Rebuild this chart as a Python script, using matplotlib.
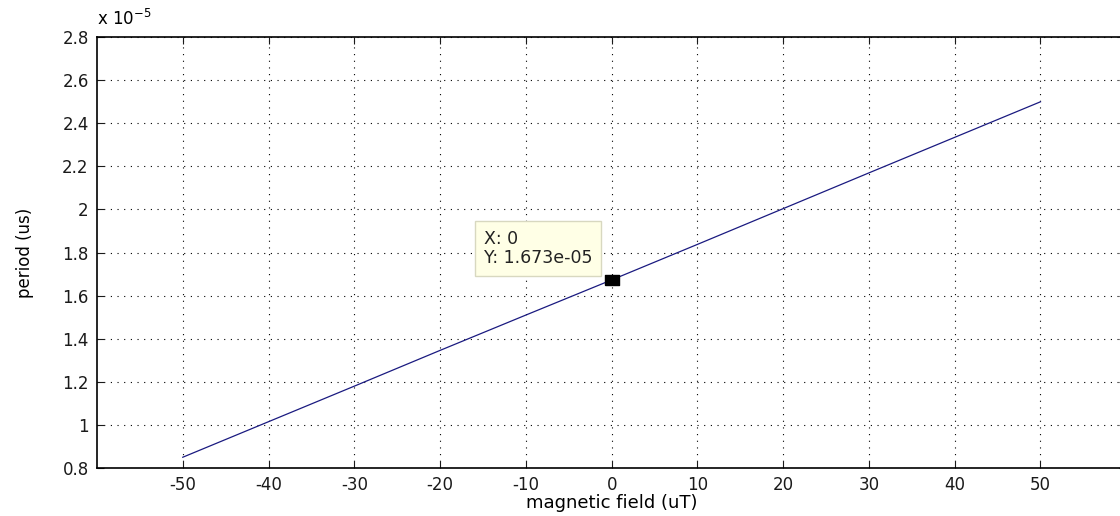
import matplotlib.pyplot as plt
import numpy as np
from matplotlib.ticker import FuncFormatter

# magnetic field (uT) vs period
field = [-50, -40, -30, -20, -10, 0, 10, 20, 30, 40, 50]
period = [0.850e-5, 1.015e-5, 1.180e-5, 1.346e-5, 1.510e-5, 1.673e-5,
          1.838e-5, 2.004e-5, 2.170e-5, 2.335e-5, 2.500e-5]
tip_x = 0
tip_y = 1.673e-5

xticks = [-50, -40, -30, -20, -10, 0, 10, 20, 30, 40, 50]
yticks = [0.8e-5, 1.0e-5, 1.2e-5, 1.4e-5, 1.6e-5, 1.8e-5, 2.0e-5,
          2.2e-5, 2.4e-5, 2.6e-5, 2.8e-5]

plt.rcParams['font.family'] = ['DejaVu Sans']
plt.rcParams['axes.unicode_minus'] = False

fig = plt.figure(figsize=(11.2, 5.16), dpi=100)
ax = fig.add_axes([0.0866, 0.093, 0.919, 0.835])

ax.plot(field, period, color='#1a1a80', lw=0.9)

ax.set_xlim(-60, 60)
ax.set_ylim(0.8e-5, 2.8e-5)
ax.set_xticks(xticks)
ax.set_yticks(yticks)
ax.yaxis.set_major_formatter(FuncFormatter(lambda v, p: '%g' % round(v / 1e-5, 2)))
ax.tick_params(direction='in', length=5, labelsize=12, colors='#1a1a1a', pad=6,
               top=True, right=True)
ax.grid(True, color='black', linestyle=(0, (1, 5)), linewidth=0.8)
for s in ax.spines.values():
    s.set_linewidth(1.2)

fig.text(0.087, 0.943, r'x 10$^{-5}$', fontsize=12, ha='left', va='bottom')

ax.set_xlabel('magnetic field (uT)', fontsize=13, labelpad=0)
ax.set_ylabel('period (us)', fontsize=12, labelpad=20)

# data tip
box = [(-1.4, -1), (1.4, -1), (1.4, 1), (-1.4, 1), (-1.4, -1)]
ax.plot([tip_x], [tip_y], marker=box, color='black', markersize=10, zorder=5)
ax.annotate('X: 0\nY: 1.673e-05', xy=(tip_x, tip_y), xytext=(-14, 9),
            textcoords='offset points', ha='right', va='bottom', fontsize=12.5,
            multialignment='left', linespacing=1.1, color='#222222',
            bbox=dict(boxstyle='square,pad=0.5', fc='#ffffe6', ec='#d8d8c0', lw=1.0),
            zorder=6)

fig.savefig('out.png', dpi=100)
